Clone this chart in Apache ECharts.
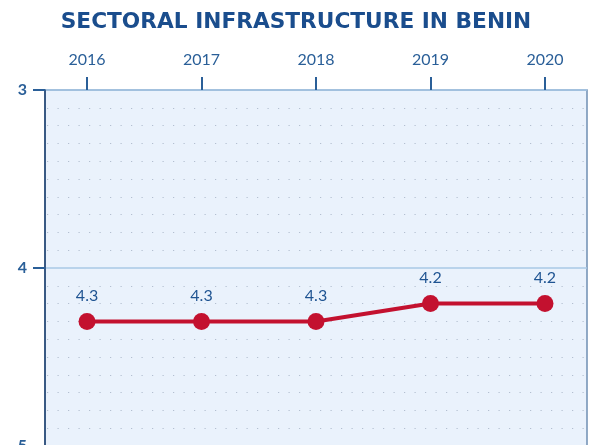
<!DOCTYPE html>
<html>
<head>
<meta charset="utf-8">
<script src="https://cdn.jsdelivr.net/npm/echarts@6/dist/echarts.min.js"></script>
<style>html,body{margin:0;padding:0;background:#fff}#c{width:592px;height:445px}</style>
</head>
<body>
<div id="c"></div>
<script>
const years = [2016, 2017, 2018, 2019, 2020];
const values = [4.3, 4.3, 4.3, 4.2, 4.2];
const yTicks = [3, 4, 5];
const title = 'SECTORAL INFRASTRUCTURE IN BENIN';

const chart = echarts.init(document.getElementById('c'), null, {renderer: 'canvas'});
chart.setOption({
  animation: false,
  backgroundColor: '#ffffff',
  title: {
    text: title, left: 'center', top: 6,
    textStyle: {fontFamily: 'DejaVu Sans', fontWeight: 'bold', fontSize: 21.7, color: '#1a4d8d'}
  },
  grid: {
    left: 45, top: 90, width: 542, height: 356,
    outerBoundsMode: 'none', containLabel: false,
    show: true, backgroundColor: '#eaf2fc', borderColor: '#6f8fb3', borderWidth: 1.5
  },
  xAxis: {
    type: 'value', position: 'top',
    min: 2015.633, max: 2020.367,
    axisLine: {show: false},
    axisTick: {show: true, customValues: years, length: 13, lineStyle: {color: '#2a5f98', width: 2}},
    axisLabel: {customValues: years, formatter: v => String(Math.round(v)), margin: 22,
      fontFamily: 'Lato', fontSize: 16, color: '#2a5f98'},
    splitLine: {show: false}
  },
  yAxis: {
    type: 'value', inverse: true, min: 3, max: 5, interval: 1,
    axisLine: {show: true, lineStyle: {color: '#1d3f6e', width: 1.5}},
    axisTick: {show: true, length: 12, lineStyle: {color: '#2a5f98', width: 2}},
    axisLabel: {margin: 18, fontFamily: 'Lato', fontWeight: 'bold', fontSize: 16, color: '#2a5f98'},
    splitLine: {show: true, lineStyle: {color: '#a9c8e6', width: 1.5}},
    minorTick: {show: false, splitNumber: 10},
    minorSplitLine: {show: true, lineStyle: {color: '#b3bfd0', width: 1.2, type: [1.2, 9.3], dashOffset: -2}}
  },
  series: [{
    type: 'line',
    data: years.map((y, i) => [y, values[i]]),
    symbol: 'circle', symbolSize: 17,
    lineStyle: {color: '#c3112f', width: 4},
    itemStyle: {color: '#c3112f'},
    label: {show: true, position: 'top', distance: 9, fontFamily: 'Lato', fontSize: 16,
      color: '#1f5492', formatter: p => p.value[1].toFixed(1)}
  }]
});
</script>
</body>
</html>
